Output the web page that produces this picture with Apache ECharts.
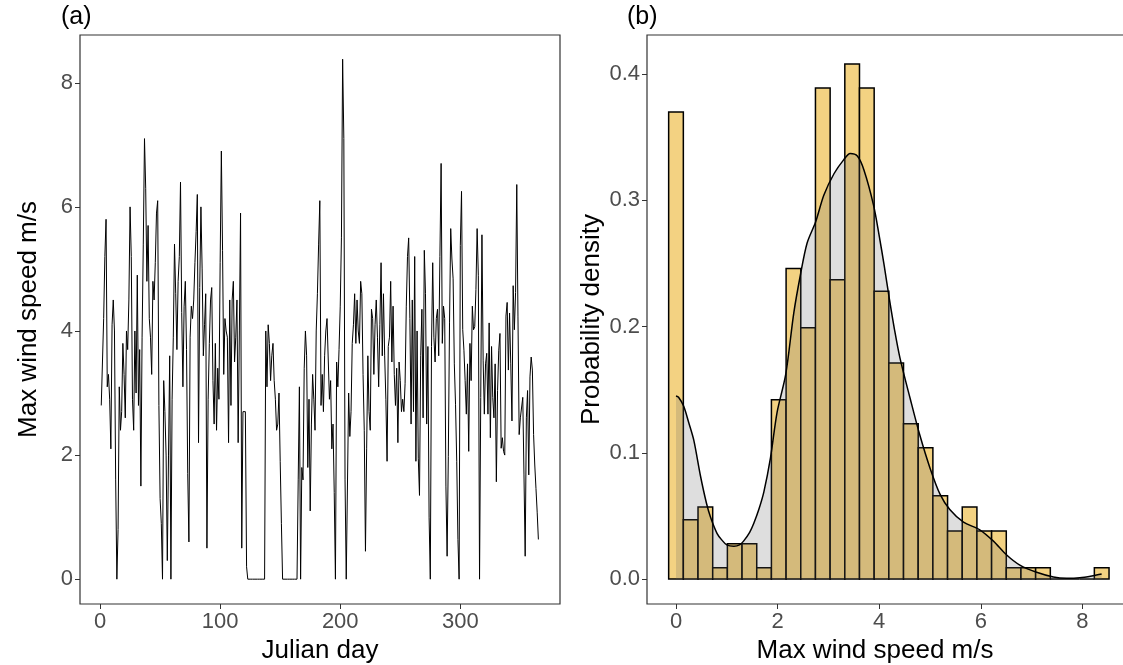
<!DOCTYPE html>
<html lang="en">

<head>
  <meta charset="UTF-8">
  <title>Max wind speed</title>
  <script src="https://cdn.jsdelivr.net/npm/echarts@6/dist/echarts.min.js"></script>
  <style>
    html, body { margin: 0; padding: 0; background: #fff; }
  </style>
</head>

<body>
  <div id="chart" style="width: 1123px; height: 665px;"></div>
  <script>
    // (a) daily max wind speed, day 1 .. 365
    const windSpeed = [
      2.8, 3.5, 4.2, 5.2, 5.8, 3.1, 3.3, 2.9, 2.1, 4.1,
      4.5, 4.0, 1.6, 0.0, 0.8, 3.1, 2.4, 2.7, 3.8, 3.3,
      2.6, 4.0, 3.7, 4.5, 6.0, 5.2, 2.9, 2.4, 4.0, 3.0,
      4.9, 2.8, 3.7, 1.5, 3.9, 5.4, 7.1, 6.3, 4.8, 5.7,
      4.2, 3.9, 3.3, 4.8, 4.5, 5.1, 5.9, 6.1, 2.8, 1.3,
      0.9, 0.0, 3.2, 2.7, 2.0, 0.3, 2.0, 3.6, 0.0, 2.9,
      3.9, 5.4, 4.6, 3.7, 4.8, 5.2, 6.4, 4.3, 3.1, 4.4,
      4.8, 3.7, 1.7, 0.6, 3.9, 4.4, 4.2, 4.5, 5.1, 5.6,
      6.2, 2.2, 4.7, 6.0, 5.0, 3.6, 4.1, 4.6, 0.5, 2.9,
      3.8, 4.5, 4.7, 3.2, 2.5, 3.8, 2.4, 3.4, 2.9, 5.1,
      6.9, 5.3, 3.3, 4.2, 4.0, 3.9, 2.2, 4.5, 2.8, 4.5,
      4.8, 3.5, 3.9, 4.5, 2.2, 4.0, 5.9, 0.5, 2.7, 2.7,
      2.7, 0.2, 0.0, 0.0, 0.0, 0.0, 0.0, 0.0, 0.0, 0.0,
      0.0, 0.0, 0.0, 0.0, 0.0, 0.0, 0.0, 4.0, 3.1, 4.1,
      3.8, 3.2, 3.6, 3.8, 3.2, 2.9, 2.4, 2.5, 3.0, 1.9,
      0.9, 0.0, 0.0, 0.0, 0.0, 0.0, 0.0, 0.0, 0.0, 0.0,
      0.0, 0.0, 0.0, 0.0, 1.6, 3.1, 0.0, 1.8, 1.6, 3.4,
      4.0, 3.6, 1.8, 2.9, 1.1, 2.5, 3.3, 2.9, 2.4, 4.0,
      4.6, 5.4, 6.1, 2.8, 3.3, 2.7, 3.6, 4.0, 4.2, 4.2,
      2.9, 3.2, 2.1, 2.5, 1.4, 0.0, 3.5, 3.1, 3.7, 4.4,
      5.5, 8.38, 7.1, 1.6, 0.0, 0.0, 3.0, 2.3, 2.7, 3.8,
      4.1, 4.6, 3.8, 4.5, 4.0, 3.8, 4.8, 4.6, 3.3, 2.4,
      0.45, 2.1, 3.6, 2.7, 2.4, 4.35, 4.2, 3.3, 4.1, 4.5,
      3.9, 3.1, 4.1, 5.1, 3.6, 4.6, 3.6, 2.9, 1.9, 3.75,
      3.9, 4.8, 3.5, 4.4, 3.3, 2.8, 3.4, 2.2, 3.5, 3.2,
      2.7, 2.9, 2.7, 3.15, 4.4, 5.2, 5.5, 4.2, 2.5, 4.5,
      2.7, 5.2, 1.9, 4.0, 1.95, 1.35, 3.6, 4.35, 2.6, 5.3,
      4.6, 2.5, 3.75, 1.0, 0.0, 3.75, 5.1, 3.9, 3.5, 4.2,
      4.35, 3.6, 5.2, 6.7, 3.8, 4.4, 4.2, 1.5, 0.37, 1.98,
      4.13, 5.65, 5.16, 4.84, 3.47, 2.82, 1.9, 0.64, 0.0, 5.38,
      6.25, 4.02, 3.69, 3.2, 2.66, 3.47, 2.06, 3.8, 3.2, 4.4,
      4.02, 4.07, 4.67, 5.65, 4.89, 0.0, 2.93, 5.55, 3.53, 2.66,
      3.47, 3.64, 2.66, 4.13, 2.28, 3.75, 2.93, 2.6, 3.47, 1.57,
      3.04, 3.69, 3.96, 2.11, 2.28, 2.06, 2.0, 4.24, 4.46, 3.37,
      4.29, 3.47, 2.55, 4.73, 4.02, 4.62, 6.36, 4.24, 2.33, 2.6,
      2.6, 2.93, 1.68, 0.37, 2.6, 3.04, 1.68, 3.26, 3.58, 3.37,
      2.33, 1.84, 1.46, 1.08, 0.64
    ]

    // (b) histogram, 30 bins
    const binWidth = 0.289
    const binCenters = [
      0.000, 0.289, 0.578, 0.867, 1.156, 1.445, 1.734, 2.023, 2.312, 2.601,
      2.890, 3.179, 3.468, 3.757, 4.046, 4.335, 4.624, 4.913, 5.202, 5.491,
      5.780, 6.069, 6.358, 6.647, 6.936, 7.225, 7.514, 7.803, 8.092, 8.381
    ]
    const histDensity = [
      0.370, 0.047, 0.057, 0.009, 0.028, 0.028, 0.009, 0.142, 0.246, 0.199,
      0.389, 0.237, 0.408, 0.389, 0.228, 0.171, 0.123, 0.104, 0.066, 0.038,
      0.057, 0.038, 0.038, 0.009, 0.009, 0.009, 0.000, 0.000, 0.000, 0.009
    ]

    // (b) kernel density curve
    const densX = [
      0.00, 0.05, 0.15, 0.25, 0.35, 0.48, 0.60, 0.68, 0.81, 0.90,
      1.00, 1.14, 1.25, 1.33, 1.45, 1.53, 1.63, 1.73, 1.86, 1.99,
      2.16, 2.32, 2.45, 2.58, 2.75, 2.91, 3.11, 3.30, 3.43, 3.57,
      3.70, 3.89, 4.00, 4.10, 4.20, 4.30, 4.41, 4.61, 4.80, 5.00,
      5.20, 5.39, 5.66, 5.98, 6.25, 6.51, 6.77, 7.10, 7.43, 7.69,
      7.95, 8.21, 8.38
    ]
    const densY = [
      0.145, 0.144, 0.137, 0.124, 0.110, 0.082, 0.060, 0.049, 0.036, 0.031,
      0.027, 0.026, 0.027, 0.030, 0.037, 0.044, 0.055, 0.069, 0.096, 0.132,
      0.162, 0.211, 0.241, 0.266, 0.283, 0.304, 0.321, 0.332, 0.337, 0.335,
      0.324, 0.296, 0.272, 0.248, 0.222, 0.198, 0.175, 0.143, 0.114, 0.088,
      0.067, 0.055, 0.045, 0.039, 0.030, 0.019, 0.011, 0.0053, 0.0016, 0.0006,
      0.0010, 0.0026, 0.0040
    ]

    const font = "'Liberation Sans', Arial, sans-serif"
    const tickLabel = { color: '#4d4d4d', fontSize: 22, fontFamily: font, margin: 7 }
    const axisName = { color: '#000', fontSize: 26, fontFamily: font }
    const tick = { show: true, length: 5, lineStyle: { color: '#333', width: 1 } }
    const noLine = { show: false, onZero: false }

    const chart = echarts.init(document.getElementById('chart'))

    const option = {
      animation: false,
      backgroundColor: '#fff',
      grid: [
        { left: 80, top: 35, width: 480, height: 569, show: true, borderColor: '#333', borderWidth: 1.2, outerBoundsMode: 'none' },
        { left: 647, top: 35, width: 484, height: 569, show: true, borderColor: '#333', borderWidth: 1.2, outerBoundsMode: 'none' }
      ],
      graphic: [
        { type: 'text', left: 61, top: 5, style: { text: '(a)', fontSize: 25, fontFamily: font, fill: '#000' } },
        { type: 'text', left: 627, top: 5, style: { text: '(b)', fontSize: 25, fontFamily: font, fill: '#000' } }
      ],
      xAxis: [
        {
          gridIndex: 0, type: 'value', min: -16.7, max: 383,
          name: 'Julian day', nameLocation: 'middle', nameGap: 30, nameTextStyle: axisName,
          axisLine: noLine, splitLine: { show: false },
          axisTick: { ...tick, customValues: [0, 100, 200, 300] },
          axisLabel: { ...tickLabel, customValues: [0, 100, 200, 300] }
        },
        {
          gridIndex: 1, type: 'value', min: -0.571, max: 8.958,
          name: 'Max wind speed m/s', nameLocation: 'middle', nameGap: 30,
          nameTextStyle: { ...axisName, padding: [0, 28, 0, 0] },
          axisLine: noLine, splitLine: { show: false },
          axisTick: { ...tick, customValues: [0, 2, 4, 6, 8] },
          axisLabel: { ...tickLabel, customValues: [0, 2, 4, 6, 8] }
        }
      ],
      yAxis: [
        {
          gridIndex: 0, type: 'value', min: -0.4, max: 8.77,
          name: 'Max wind speed m/s', nameLocation: 'middle', nameGap: 38, nameTextStyle: axisName,
          axisLine: noLine, splitLine: { show: false },
          axisTick: { ...tick, customValues: [0, 2, 4, 6, 8] },
          axisLabel: { ...tickLabel, customValues: [0, 2, 4, 6, 8] }
        },
        {
          gridIndex: 1, type: 'value', min: -0.0198, max: 0.4309,
          name: 'Probability density', nameLocation: 'middle', nameGap: 42, nameTextStyle: axisName,
          axisLine: noLine, splitLine: { show: false },
          axisTick: { ...tick, customValues: [0, 0.1, 0.2, 0.3, 0.4] },
          axisLabel: { ...tickLabel, customValues: [0, 0.1, 0.2, 0.3, 0.4], formatter: v => v.toFixed(1) }
        }
      ],
      series: [
        {
          type: 'line',
          xAxisIndex: 0, yAxisIndex: 0,
          data: windSpeed.map((v, i) => [i + 1, v]),
          showSymbol: false,
          lineStyle: { color: '#000', width: 1 }
        },
        {
          // histogram bars
          type: 'custom',
          xAxisIndex: 1, yAxisIndex: 1,
          data: binCenters.map((c, i) => [c, histDensity[i]]),
          encode: { x: 0, y: 1 },
          renderItem(params, api) {
            const c = api.value(0)
            const h = api.value(1)
            const p0 = api.coord([c - binWidth / 2, h])
            const p1 = api.coord([c + binWidth / 2, 0])
            return {
              type: 'rect',
              shape: { x: p0[0], y: p0[1], width: p1[0] - p0[0], height: p1[1] - p0[1] },
              style: { fill: '#f3d282', stroke: '#000', lineWidth: 1.5 }
            }
          }
        },
        {
          // density curve with shaded area
          type: 'line',
          xAxisIndex: 1, yAxisIndex: 1,
          data: densX.map((x, i) => [x, densY[i]]),
          smooth: 0.3,
          showSymbol: false,
          lineStyle: { color: '#000', width: 1.5 },
          areaStyle: { color: 'rgba(100,100,100,0.3)', origin: 0 }
        }
      ]
    }

    chart.setOption(option)
  </script>
</body>

</html>
